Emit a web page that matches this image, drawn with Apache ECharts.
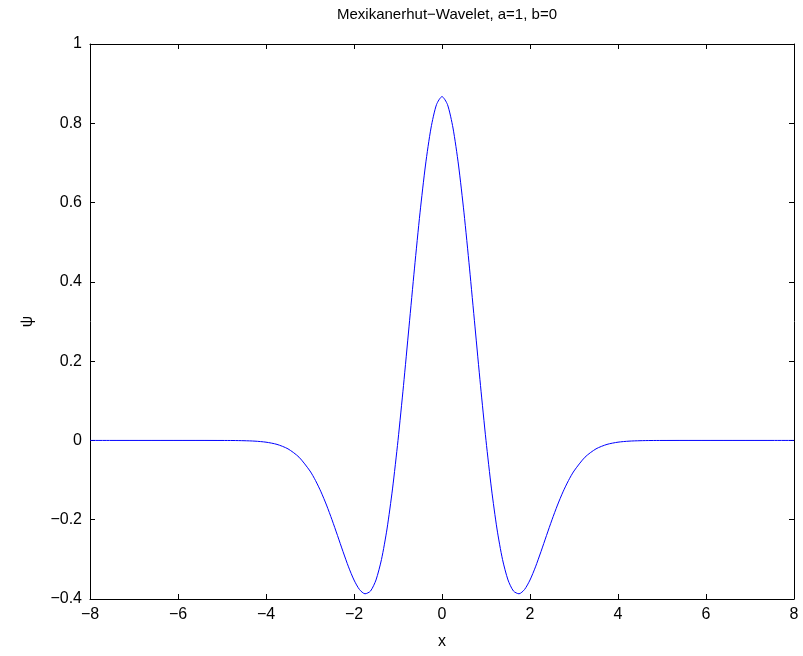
<!DOCTYPE html>
<html>
<head>
<meta charset="utf-8">
<script src="https://cdn.jsdelivr.net/npm/echarts@6/dist/echarts.min.js"></script>
<style>html,body{margin:0;padding:0;background:#fff}#c{width:803px;height:656px}</style>
</head>
<body>
<div id="c"></div>
<script>
// x positions and wavelet values (right half, mirrored for symmetry)
const xHalf = [0,0.125,0.25,0.375,0.5,0.625,0.75,0.875,1,1.125,1.25,1.375,1.5,1.625,1.75,1.875,2,2.125,2.25,2.375,2.5,2.625,2.75,2.875,3,3.25,3.5,3.75,4,4.25,4.5,4.75,5,5.5,6,6.5,7,7.5,8];
const psiHalf = [0.8673,0.8471,0.7881,0.6947,0.5741,0.4347,0.2864,0.1386,0,-0.1224,-0.2234,-0.3001,-0.3520,-0.3800,-0.3869,-0.3762,-0.3521,-0.3189,-0.2803,-0.2398,-0.2001,-0.1630,-0.1297,-0.1011,-0.0771,-0.0422,-0.0213,-0.0100,-0.0044,-0.0018,-0.0007,-0.0002,-0.0001,0,0,0,0,0,0];
const xTicks = [-8,-6,-4,-2,0,2,4,6,8];
const yTicks = [-0.4,-0.2,0,0.2,0.4,0.6,0.8,1];

const pts = [];
for (let i = xHalf.length - 1; i > 0; i--) pts.push([-xHalf[i], psiHalf[i]]);
for (let i = 0; i < xHalf.length; i++) pts.push([xHalf[i], psiHalf[i]]);

const fmt = v => String(Math.round(v * 10) / 10).replace('-', '\u2212');
const font = 'Liberation Sans, Arial, sans-serif';
const axisCommon = {
  axisLine: {show: true, onZero: false, lineStyle: {color: '#000', width: 1}},
  axisTick: {show: true, inside: true, length: 5, lineStyle: {color: '#000'}},
  splitLine: {show: false}
};
const chart = echarts.init(document.getElementById('c'));
chart.setOption({
  animation: false,
  backgroundColor: '#fff',
  title: {text: 'Mexikanerhut\u2212Wavelet, a=1, b=0', left: 442, top: 2, textAlign: 'center',
    textStyle: {fontFamily: font, fontSize: 15, fontWeight: 'normal', color: '#000'}},
  grid: {left: 90, right: 9, top: 44, bottom: 57},
  xAxis: [
    Object.assign({type: 'value', min: xTicks[0], max: xTicks[xTicks.length - 1], interval: 2, position: 'bottom',
      name: 'x', nameLocation: 'middle', nameGap: 35,
      nameTextStyle: {fontFamily: font, fontSize: 16, color: '#000'},
      axisLabel: {fontFamily: font, fontSize: 16, color: '#000', margin: 8, formatter: fmt}}, axisCommon),
    Object.assign({type: 'value', min: xTicks[0], max: xTicks[xTicks.length - 1], interval: 2, position: 'top',
      axisLabel: {show: false}}, axisCommon)
  ],
  yAxis: [
    Object.assign({type: 'value', min: yTicks[0], max: yTicks[yTicks.length - 1], interval: 0.2, position: 'left',
      name: '\u03c8', nameLocation: 'middle', nameGap: 54,
      nameTextStyle: {fontFamily: font, fontSize: 16, color: '#000'},
      axisLabel: {fontFamily: font, fontSize: 16, color: '#000', margin: 8, formatter: fmt}}, axisCommon),
    Object.assign({type: 'value', min: yTicks[0], max: yTicks[yTicks.length - 1], interval: 0.2, position: 'right',
      axisLabel: {show: false}}, axisCommon)
  ],
  series: [{
    type: 'line', data: pts, smooth: 0.25, symbol: 'none',
    lineStyle: {color: '#0000ff', width: 1}
  }]
});
</script>
</body>
</html>
